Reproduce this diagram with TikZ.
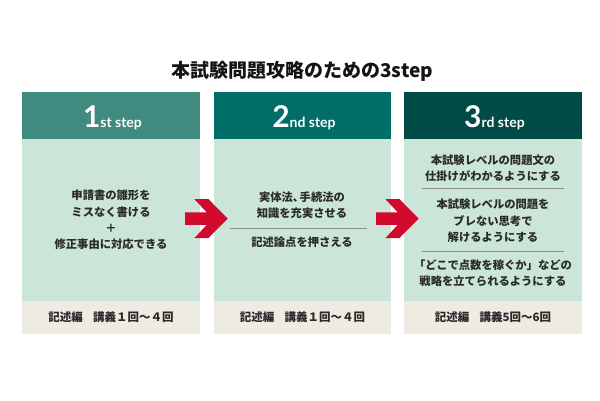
\documentclass[tikz,border=0pt]{standalone}
\usepackage{fontspec}
\usetikzlibrary{calc}
\setmainfont{Noto Sans CJK JP}
\newfontfamily\hdr{Lato}
\definecolor{hA}{HTML}{3F8B80}
\definecolor{hB}{HTML}{006D67}
\definecolor{hC}{HTML}{004B47}
\definecolor{bodyg}{HTML}{CBE6D8}
\definecolor{foot}{HTML}{EEEBE3}
\definecolor{arr}{HTML}{D10A2E}
\definecolor{txt}{HTML}{2A2A2A}
\definecolor{rule}{HTML}{8C8C8C}
\begin{document}
\begin{tikzpicture}[x=1pt,y=-1pt,
  box/.style={anchor=north west,inner sep=0pt,draw=none,minimum width=177.5pt},
  headbox/.style={box,fill=#1,minimum height=47pt},
  bodybox/.style={box,fill=bodyg,minimum height=161.5pt},
  footbox/.style={box,fill=foot,minimum height=33.5pt},
  headtxt/.style={anchor=base,text=white,inner sep=0pt,font=\hdr\bfseries},
  bodytxt/.style={align=center,text=txt,inner sep=0pt,font=\bfseries\fontsize{11.3}{16.4}\selectfont},
  foottxt/.style={text=txt,inner sep=0pt,font=\bfseries\fontsize{11.5}{13}\selectfont},
  divider/.style={draw=rule,line width=0.9pt},
  redarrow/.style={fill=arr,draw=none}]
\useasboundingbox (0,0) rectangle (600,400);
\fill[white] (0,0) rectangle (600,400);
% title
\node[text=black!92,inner sep=0pt,font=\bfseries\fontsize{19}{20}\selectfont] (title) at (302,71) {本試験問題攻略のための3step};
% columns
\foreach \i/\x/\c in {1/22/hA,2/213.5/hB,3/404/hC}{
  \node[headbox=\c] (h\i) at (\x,92) {};
  \node[bodybox] (b\i) at (\x,139) {};
  \node[footbox] (f\i) at (\x,300.5) {};
}
% header texts
\node[headtxt] (ht1) at ($(h1.south)+(1.5,-12)$) {\fontsize{30}{30}\selectfont 1\fontsize{14}{14}\selectfont st step};
\node[headtxt] (ht2) at ($(h2.south)+(1.5,-12)$) {\fontsize{30}{30}\selectfont 2\fontsize{14}{14}\selectfont nd step};
\node[headtxt] (ht3) at ($(h3.south)+(1.5,-12)$) {\fontsize{30}{30}\selectfont 3\fontsize{14}{14}\selectfont rd step};
% body texts column 1
\node[bodytxt] (t1) at (111,220) {申請書の雛形を\\ミスなく書ける\\＋\\修正事由に対応できる};
% column 2
\node[bodytxt] (t2a) at (302,205) {実体法、\kern-0.4em手続法の\\知識を充実させる};
\coordinate (d2l) at (230,228);
\coordinate (d2r) at (367,228);
\draw[divider] (d2l) -- (d2r);
\node[bodytxt] (t2b) at (302,242) {記述論点を押さえる};
% column 3
\node[bodytxt] (t3a) at (493,168.5) {本試験レベルの問題文の\\仕掛けがわかるようにする};
\coordinate (d3l) at (422,188);
\coordinate (d3r) at (564,188);
\draw[divider] (d3l) -- (d3r);
\node[bodytxt] (t3b) at (493,221) {本試験レベルの問題を\\ブレない思考で\\解けるようにする};
\coordinate (d4l) at (422,251);
\coordinate (d4r) at (564,251);
\draw[divider] (d4l) -- (d4r);
\node[bodytxt] (t3c) at (493,273) {「どこで点数を稼ぐか」などの\\戦略を立てられるようにする};
% footers
\node[foottxt] (ft1) at (f1.center) {記述編\hspace{0.9em}講義１回～４回};
\node[foottxt] (ft2) at (f2.center) {記述編\hspace{0.9em}講義１回～４回};
\node[foottxt] (ft3) at (f3.center) {記述編\hspace{0.9em}講義5回～6回};
% arrows
\foreach \ax in {185,376}{
  \fill[redarrow,shift={(\ax,218.6)}] (0,-6.3) -- (21.7,-6.3) -- (9.3,-19.6) -- (23.3,-19.6) -- (42.7,0) -- (23.3,19.6) -- (9.3,19.6) -- (21.7,6.3) -- (0,6.3) -- cycle;
}
\end{tikzpicture}
\end{document}
